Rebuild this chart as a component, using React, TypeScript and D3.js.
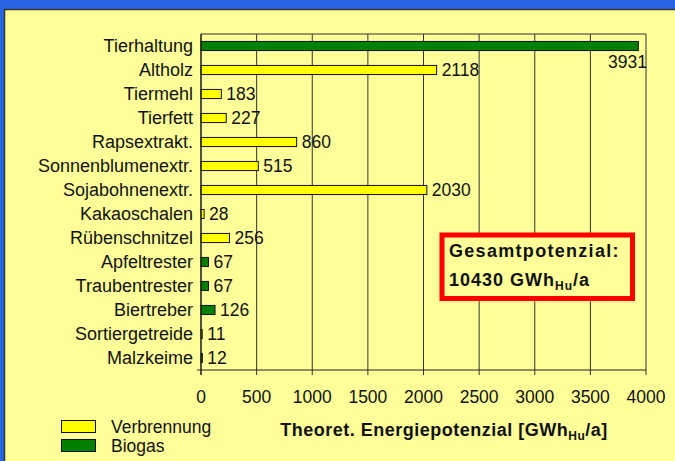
import React from "react"
import { scaleLinear, scaleBand } from "d3"

// chart values
const categories = [
  "Tierhaltung",
  "Altholz",
  "Tiermehl",
  "Tierfett",
  "Rapsextrakt.",
  "Sonnenblumenextr.",
  "Sojabohnenextr.",
  "Kakaoschalen",
  "Rübenschnitzel",
  "Apfeltrester",
  "Traubentrester",
  "Biertreber",
  "Sortiergetreide",
  "Malzkeime",
]
const values = [3931, 2118, 183, 227, 860, 515, 2030, 28, 256, 67, 67, 126, 11, 12]
const kinds = ["B", "V", "V", "V", "V", "V", "V", "V", "V", "B", "B", "B", "V", "B"]
const xTicks = [0, 500, 1000, 1500, 2000, 2500, 3000, 3500, 4000]
const legendItems = [
  { key: "V", label: "Verbrennung" },
  { key: "B", label: "Biogas" },
]

const colors = { V: "#FFFF00", B: "#008000" }
const font = "'Liberation Sans', Arial, sans-serif"

export default function App() {
  const W = 675
  const H = 461
  const left = 201
  const right = 646
  const top = 34
  const bottom = 370

  const x = scaleLinear().domain([0, 4000]).range([left, right])
  const y = scaleBand()
    .domain(categories)
    .range([top, bottom])
    .paddingInner(0.62)
    .paddingOuter(0.31)

  return (
    <svg
      width={W}
      height={H}
      style={{ position: "absolute", left: 0, top: 0 }}
      fontFamily={font}
    >
      <rect x={0} y={0} width={W} height={H} fill="#2864E6" />
      <rect x={4.5} y={9.5} width={W + 10} height={H + 10} fill="#FFFF99" stroke="#333" strokeWidth={1.5} />

      {/* grid */}
      {xTicks.map(t => (
        <line key={t} x1={x(t)} x2={x(t)} y1={top} y2={bottom + 5} stroke="#333" strokeWidth={1} />
      ))}
      <line x1={left} x2={right} y1={top} y2={top} stroke="#333" strokeWidth={1} />
      <line x1={left - 4} x2={right} y1={bottom} y2={bottom} stroke="#222" strokeWidth={1} />

      {/* bars */}
      {categories.map((c, i) => (
        <rect
          key={c}
          x={x(0)}
          y={y(c)}
          width={x(values[i]) - x(0)}
          height={y.bandwidth()}
          fill={colors[kinds[i]]}
          stroke="#111"
          strokeWidth={1}
        />
      ))}
      <line x1={left} x2={left} y1={top} y2={bottom + 5} stroke="#222" strokeWidth={1.2} />

      {/* category labels */}
      {categories.map(c => (
        <text key={c} x={193} y={y(c) + y.bandwidth() / 2} dy="0.36em" textAnchor="end" fontSize={18} fill="#111">
          {c}
        </text>
      ))}

      {/* value labels */}
      {categories.map((c, i) => {
        const end = x(values[i])
        const tooLong = end + 40 > right
        return (
          <text
            key={c}
            x={tooLong ? right + 1 : end + 5}
            y={tooLong ? y(c) + y.bandwidth() + 11 : y(c) + y.bandwidth() / 2}
            dy="0.36em"
            textAnchor={tooLong ? "end" : "start"}
            fontSize={17.5}
            fill="#111"
          >
            {values[i]}
          </text>
        )
      })}

      {/* x tick labels */}
      {xTicks.map(t => (
        <text key={t} x={x(t)} y={403} textAnchor="middle" fontSize={17.5} fill="#111">
          {t}
        </text>
      ))}

      {/* axis title */}
      <text x={444} y={436} textAnchor="middle" fontSize={18} fontWeight="bold" letterSpacing={0.5} fill="#111">
        Theoret. Energiepotenzial [GWh
        <tspan fontSize={12} dy={4}>Hu</tspan>
        <tspan dy={-4}>/a]</tspan>
      </text>

      {/* total box */}
      <rect x={442} y={235} width={190.5} height={63.5} fill="#FFFF99" stroke="#FF0000" strokeWidth={5} />
      <text x={449} y={257} fontSize={18} fontWeight="bold" letterSpacing={1.3} fill="#111">
        Gesamtpotenzial:
      </text>
      <text x={449} y={286} fontSize={18} fontWeight="bold" letterSpacing={1} fill="#111">
        10430 GWh
        <tspan fontSize={12} dy={4}>Hu</tspan>
        <tspan dy={-4}>/a</tspan>
      </text>

      {/* legend */}
      {legendItems.map((d, i) => (
        <g key={d.key} transform={`translate(61, ${420 + i * 19})`}>
          <rect x={0.5} y={0.5} width={34} height={12} fill={colors[d.key]} stroke="#111" strokeWidth={1} />
          <text x={50} y={6.5} dy="0.36em" fontSize={17.5} fill="#111">
            {d.label}
          </text>
        </g>
      ))}
    </svg>
  )
}
